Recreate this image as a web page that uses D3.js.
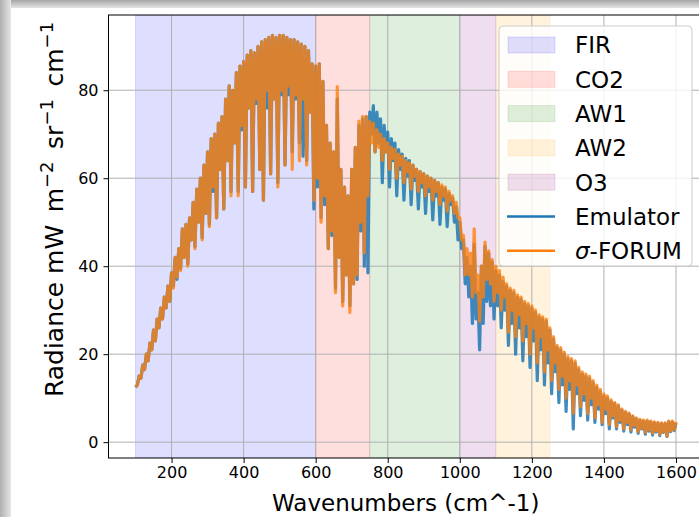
<!DOCTYPE html>
<html>
<head>
<meta charset="utf-8">
<script src="https://cdn.jsdelivr.net/npm/d3@7"></script>
<style>
  body { margin: 0; background: #fff; }
  text { font-family: "DejaVu Sans", sans-serif; fill: #000; }
</style>
</head>
<body>
<svg id="chart" width="699" height="517"></svg>
<script>
// spectral grid, 5 cm^-1 sampling
const wavenumbers = d3.range(100, 1601, 5);

// sigma-FORUM radiance
const forumValues = [
  12.5,13, 15,14.5, 17.5,16.5, 20,18.5, 22.5,21, 25.5,23, 28,26, 30.5,28, 33,30.5, 35.5,32,
  38.5,35, 42,37.5, 44,39, 48.5,42, 49.5,40, 51,46, 54.5,44, 57.5,50, 60,46, 63,52,
  66,49, 69,58, 70,51, 72.5,62, 74,53, 78,64, 81,56, 80,68, 84,56, 85.5,72,
  86.5,58, 88,76, 89,57, 88.5,78, 90,62, 91,55, 91.5,80, 92,61, 92.5,78, 92,58,
  92.5,80, 92.5,63, 92,81, 91.5,62, 91.5,79, 91,64, 90.5,78, 90,63, 89,75, 86,55,
  85.5,60, 86,50, 82,56, 72,44, 68,48, 66,34, 80.8,42, 62,31, 58,38, 56,29.5,
  62,36, 67,38, 73,50, 74,43, 74,56, 73,68, 72.5,66, 71,67, 70,64, 69,66,
  68,62, 67,64.5, 66.5,60, 65.5,63, 65,59, 64,61.5, 63.5,57.5, 63,60.5, 62,57, 61.5,59,
  61,56, 60.5,58, 60,55, 59.5,57, 59,54, 58.5,56, 58,52.5, 57,55, 56,52, 54.5,51,
  51,46, 47,38, 44,38, 43,33, 48.5,34, 38,27.5, 40,33, 45.5,37, 43.5,36, 41.5,32,
  40,34, 39,30, 37.5,33, 36,25, 35,30, 34.5,24, 33.5,29, 33,23, 32,27, 31.5,20,
  31,26, 30,18, 29,24, 28.5,16, 28,21, 26,14, 24,18, 22,12, 21.5,15, 20.5,10,
  19.5,14, 19,6.6, 18.5,13, 17,8, 16,11, 15.5,6.5, 15,10, 14,5.5, 13,8.5, 12,4.5,
  11,7.5, 10.5,4, 9.6,6, 9,3.5, 8.5,5, 7.5,3, 7,4.5, 6.6,2.8, 6,3.8, 5.5,2.4,
  5.2,3.2, 5,2.2, 5,2.8, 4.8,2, 4.6,2.6, 4.5,1.8, 4.4,2.4, 4.4,1.4, 4.8,2.6, 4.8,2.8,
  4.6
];

// emulator radiance
const emulatorValues = [
  12.5,13, 15,14.5, 17.5,16.5, 20,18.5, 22.5,21, 25.5,23, 28,26, 30.5,28, 33,30.5, 35.5,32,
  38.5,35.5, 42,37, 44,39.5, 48.5,42, 49.5,40.5, 51,46, 54.5,44.5, 57.5,50, 60,46.5, 63,52,
  66,49.5, 69,57, 70,51, 72.5,62, 74,53, 78,64, 81,57, 80,68, 84,57, 85.5,71,
  86.5,58, 88,76, 89,57, 88.5,77, 90,62, 91,55, 91.5,76, 92,61, 92.5,78, 92,59,
  92.5,79, 92.5,63, 92,79, 91.5,66, 91.5,78, 91,68, 90.5,65, 90,64, 89,75, 86,53,
  85.5,58, 86,51, 82,54, 72,44, 68,47, 66,35, 78,42, 62,32, 58,38, 56,31,
  62,36, 67,37, 72,48, 73.5,40, 74,38.5, 75,70, 76.5,66, 75,68, 73.5,59, 72,66,
  70.5,58, 69,64, 68,56, 66.5,62, 65.5,55, 64.5,60.5, 64,54, 63,59.5, 62,53, 61.5,58,
  61,52, 60.5,57, 60,50.5, 59.5,56, 59,49.5, 58,55, 57.5,49, 56.5,54, 55.5,50, 53.5,46,
  50,44, 46,36, 42,33, 40,27, 45,28, 34,21, 40,27, 44.5,32, 43,31, 41,28,
  39,31, 38,26, 36.5,30, 35.5,22, 34.5,27, 34,20, 33,26, 32.5,18.5, 31.5,24, 31,17,
  30.5,23, 29.5,14, 28.5,21, 28,13, 27.5,18, 25.5,11, 23.5,16, 21.5,9, 21,13, 20,7,
  19,12, 18.5,3, 18,11, 16.5,6, 15.5,9.5, 15,5, 14.5,8.5, 13.5,4.5, 12.5,7.5, 11.5,4,
  10.5,6.5, 10,3, 9.3,5.5, 8.8,3, 8.2,4.5, 7.3,2.5, 6.8,4, 6.4,2.3, 5.8,3.4, 5.3,2,
  5,3, 4.8,1.8, 4.8,2.5, 4.6,1.6, 4.4,2.3, 4.3,1.5, 4.2,2.2, 4.2,1.3, 4.6,2.4, 4.6,2.6,
  4.4
];

// spectral bands
const bandNames = ["FIR", "CO2", "AW1", "AW2", "O3"];
const bandStart = [100, 600, 750, 1100, 1000];
const bandEnd = [600, 750, 1000, 1250, 1100];
const bandColors = ["blue", "red", "green", "orange", "purple"];

const xTicks = [200, 400, 600, 800, 1000, 1200, 1400, 1600];
const yTicks = [0, 20, 40, 60, 80];

const svg = d3.select("#chart");

// screenshot shadow at top and left
const defs = svg.append("defs");
const topGrad = defs.append("linearGradient").attr("id", "topShade")
  .attr("x1", 0).attr("y1", 0).attr("x2", 0).attr("y2", 1);
topGrad.append("stop").attr("offset", 0).attr("stop-color", "#a6a6a6");
topGrad.append("stop").attr("offset", 1).attr("stop-color", "#e4e4e4");
const leftGrad = defs.append("linearGradient").attr("id", "leftShade")
  .attr("x1", 0).attr("y1", 0).attr("x2", 1).attr("y2", 0);
leftGrad.append("stop").attr("offset", 0).attr("stop-color", "#b0b0b0");
leftGrad.append("stop").attr("offset", 1).attr("stop-color", "#e6e6e6");
svg.append("rect").attr("x", 0).attr("y", 0).attr("width", 699).attr("height", 8)
  .attr("fill", "url(#topShade)");
svg.append("rect").attr("x", 0).attr("y", 0).attr("width", 11).attr("height", 517)
  .attr("fill", "url(#leftShade)");

const plot = { left: 108.5, right: 703, top: 15, bottom: 458 };

defs.append("clipPath").attr("id", "plotClip")
  .append("rect")
  .attr("x", plot.left).attr("y", plot.top)
  .attr("width", plot.right - plot.left).attr("height", plot.bottom - plot.top);

const x = d3.scaleLinear().domain([25, 1675]).range([plot.left, plot.right]);
const y = d3.scaleLinear().domain([-3.6, 97.1]).range([plot.bottom, plot.top]);

const inner = svg.append("g").attr("clip-path", "url(#plotClip)");

// bands
inner.selectAll("rect.band")
  .data(bandNames)
  .enter()
  .append("rect")
  .attr("class", "band")
  .attr("x", (d, i) => x(bandStart[i]))
  .attr("y", plot.top)
  .attr("width", (d, i) => x(bandEnd[i]) - x(bandStart[i]))
  .attr("height", plot.bottom - plot.top)
  .attr("fill", (d, i) => bandColors[i])
  .attr("fill-opacity", 0.13)
  .attr("stroke", (d, i) => bandColors[i])
  .attr("stroke-opacity", 0.13);

// grid
inner.selectAll("line.vgrid")
  .data(xTicks)
  .enter()
  .append("line")
  .attr("x1", (d) => x(d)).attr("x2", (d) => x(d))
  .attr("y1", plot.top).attr("y2", plot.bottom)
  .attr("stroke", "#b0b0b0").attr("stroke-width", 1);
inner.selectAll("line.hgrid")
  .data(yTicks)
  .enter()
  .append("line")
  .attr("y1", (d) => y(d)).attr("y2", (d) => y(d))
  .attr("x1", plot.left).attr("x2", plot.right)
  .attr("stroke", "#b0b0b0").attr("stroke-width", 1);

const line = d3.line()
  .x((d, i) => x(wavenumbers[i]))
  .y((d) => y(d));

inner.append("path")
  .attr("d", line(emulatorValues))
  .attr("fill", "none")
  .attr("stroke", "#1f77b4")
  .attr("stroke-opacity", 0.85)
  .attr("stroke-width", 3.2)
  .attr("stroke-linejoin", "round");

inner.append("path")
  .attr("d", line(forumValues))
  .attr("fill", "none")
  .attr("stroke", "#ff7f0e")
  .attr("stroke-opacity", 0.8)
  .attr("stroke-width", 3.2)
  .attr("stroke-linejoin", "round");

// axes
const xAxis = svg.append("g")
  .attr("transform", `translate(0,${plot.bottom})`)
  .call(d3.axisBottom(x).tickValues(xTicks).tickFormat(d3.format("d"))
    .tickSize(5).tickPadding(4).tickSizeOuter(0));
const yAxis = svg.append("g")
  .attr("transform", `translate(${plot.left},0)`)
  .call(d3.axisLeft(y).tickValues(yTicks).tickFormat(d3.format("d"))
    .tickSize(5).tickPadding(5).tickSizeOuter(0));
[xAxis, yAxis].forEach((g) => {
  g.select(".domain").remove();
  g.selectAll("text").attr("font-size", 16).attr("font-family", "DejaVu Sans").attr("fill", "#000");
  g.selectAll("line").attr("stroke", "#000");
});

// spines
svg.append("rect")
  .attr("x", plot.left).attr("y", plot.top)
  .attr("width", plot.right - plot.left).attr("height", plot.bottom - plot.top)
  .attr("fill", "none").attr("stroke", "#000").attr("stroke-width", 1);

svg.append("text")
  .attr("x", (plot.left + plot.right) / 2)
  .attr("y", 511)
  .attr("text-anchor", "middle")
  .attr("font-size", 23)
  .text("Wavenumbers (cm^-1)");

const yLabel = svg.append("text")
  .attr("transform", "translate(63,209.5) rotate(-90)")
  .attr("text-anchor", "middle")
  .attr("font-size", 25);
yLabel.append("tspan").text("Radiance mW\u2002m");
yLabel.append("tspan").attr("dy", -10).attr("font-size", 18).text("\u22122");
yLabel.append("tspan").attr("dy", 10).text("\u2002sr");
yLabel.append("tspan").attr("dy", -10).attr("font-size", 18).text("\u22121");
yLabel.append("tspan").attr("dy", 10).text("\u2002cm");
yLabel.append("tspan").attr("dy", -10).attr("font-size", 18).text("\u22121");

// legend
const legend = svg.append("g");
legend.append("rect")
  .attr("x", 499).attr("y", 26).attr("width", 193).attr("height", 240)
  .attr("rx", 4)
  .attr("fill", "#fff").attr("fill-opacity", 0.8)
  .attr("stroke", "#cccccc").attr("stroke-width", 1);

const rowY = (i) => 45 + i * 34.3;

legend.selectAll("rect.patch")
  .data(bandNames)
  .enter()
  .append("rect")
  .attr("x", 508).attr("y", (d, i) => rowY(i) - 8)
  .attr("width", 47).attr("height", 16)
  .attr("fill", (d, i) => bandColors[i]).attr("fill-opacity", 0.13)
  .attr("stroke", (d, i) => bandColors[i]).attr("stroke-opacity", 0.13);

legend.selectAll("text.band")
  .data(bandNames)
  .enter()
  .append("text")
  .attr("x", 575).attr("y", (d, i) => rowY(i) + 8.4)
  .attr("font-size", 23)
  .text((d) => d);

const lineItems = [
  { name: "Emulator", color: "#1f77b4" },
  { name: "-FORUM", color: "#ff7f0e" }
];
lineItems.forEach((item, k) => {
  const cy = rowY(5 + k);
  legend.append("line")
    .attr("x1", 507).attr("x2", 555).attr("y1", cy).attr("y2", cy)
    .attr("stroke", item.color).attr("stroke-width", 2.5);
  const t = legend.append("text").attr("x", 575).attr("y", cy + 8.4).attr("font-size", 23);
  if (k === 1) t.append("tspan").attr("font-style", "italic").text("\u03c3");
  t.append("tspan").text(item.name);
});
</script>
</body>
</html>
